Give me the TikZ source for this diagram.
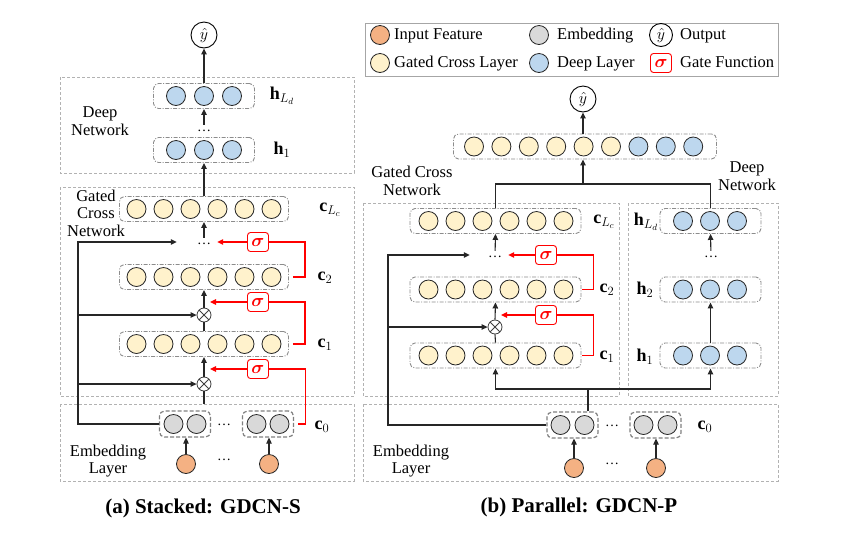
\RequirePackage{fix-cm}
\documentclass[tikz,border=0pt]{standalone}
\usepackage{amsmath}
\usepackage{fontspec}
\setmainfont{Liberation Serif}
\usetikzlibrary{arrows.meta}
\tikzset{>/.tip={Triangle[length=6pt,width=5.5pt]}}
\definecolor{featc}{HTML}{F4B183}
\definecolor{embc}{HTML}{D9D9D9}
\definecolor{crossc}{HTML}{FFF2CC}
\definecolor{deepc}{HTML}{BDD7EE}
\tikzset{
  panel/.style={draw=black!30, dash pattern=on 3pt off 2pt, line width=0.9pt},
  legbox/.style={draw=black!35, line width=0.9pt},
  rowbox/.style={draw=black!45, dash pattern=on 4pt off 1.5pt on 1pt off 1.5pt, rounded corners=5pt, line width=0.9pt, minimum height=25pt, inner sep=0pt},
  embbox/.style={draw=black!50, dash pattern=on 4pt off 2pt, rounded corners=5pt, line width=1.2pt, minimum width=51pt, minimum height=26pt, inner sep=0pt},
  cell/.style={circle, draw=black!85, line width=0.8pt, minimum size=19pt, inner sep=0pt},
  featu/.style={cell, fill=featc},
  embu/.style={cell, fill=embc},
  crossu/.style={cell, fill=crossc},
  deepu/.style={cell, fill=deepc},
  outnode/.style={circle, draw, line width=0.9pt, minimum size=26pt, inner sep=0pt, font=\fontsize{16}{16}\selectfont},
  prod/.style={circle, draw=black!75, line width=0.8pt, minimum size=14pt, inner sep=0pt,
    path picture={\draw[black!75, line width=0.8pt]
      (path picture bounding box.north west) -- (path picture bounding box.south east)
      (path picture bounding box.north east) -- (path picture bounding box.south west);}},
  gate/.style={draw=red, rounded corners=3pt, line width=0.9pt, text=red, minimum width=21pt, minimum height=19pt, inner sep=0pt, font=\fontsize{18}{18}\selectfont},
  link/.style={draw=black!85, line width=1.1pt},
  gateline/.style={draw=red, line width=1.1pt},
  lbl/.style={font=\fontsize{18}{20}\selectfont, inner sep=0pt},
  tag/.style={align=center, font=\fontsize{16.5}{17.5}\selectfont, inner sep=0pt},
  legtxt/.style={anchor=west, inner sep=0pt, text height=11pt, text depth=3pt, font=\fontsize{16.5}{17}\selectfont},
  dotlbl/.style={inner sep=0pt, font=\fontsize{14}{14}\selectfont},
  capt/.style={font=\fontsize{21}{21}\selectfont\bfseries}
}
\begin{document}
\begin{tikzpicture}[x=1pt,y=-1pt]
\useasboundingbox (0,0) rectangle (854,550);
% ---------- (a) stacked ----------
\node[outnode] (ya) at (204,35) {$\hat{y}$};
\draw[panel] (60,77) rectangle (354,173);
\draw[panel] (60,187) rectangle (354,396);
\draw[panel] (60,404) rectangle (354,481);
\node[tag] (deepa) at (100,121) {Deep\\Network};
\node[tag] (gcna) at (96,213) {Gated\\Cross\\Network};
\node[tag] (embla) at (108,461) {Embedding\\Layer};
% deep rows
\node[rowbox, minimum width=101pt] (hLda) at (204,96) {};
\node[rowbox, minimum width=101pt] (h1a) at (204,150) {};
\foreach \i in {0,1,2}
{
  \node[deepu] (hLda-\i) at ({204+28*(\i-1)},96) {};
  \node[deepu] (h1a-\i) at ({204+28*(\i-1)},150) {};
}
\node[lbl] (lhLda) at (282,96) {$\mathbf{h}_{L_d}$};
\node[lbl] (lh1a) at (282,150) {$\mathbf{h}_1$};
\node[dotlbl] (dda) at (204,131) {\ldots};
% cross rows
\node[rowbox, minimum width=169pt] (cLca) at (204,209) {};
\node[rowbox, minimum width=169pt] (c2a) at (204,277) {};
\node[rowbox, minimum width=169pt] (c1a) at (204,344) {};
\foreach \i in {0,...,5}
{
  \node[crossu] (cLca-\i) at ({204+27*(\i-2.5)},209) {};
  \node[crossu] (c2a-\i) at ({204+27*(\i-2.5)},277) {};
  \node[crossu] (c1a-\i) at ({204+27*(\i-2.5)},344) {};
}
\node[lbl] (lcLca) at (330,210) {$\mathbf{c}_{L_c}$};
\node[lbl] (lc2a) at (325,278) {$\mathbf{c}_2$};
\node[lbl] (lc1a) at (325,345) {$\mathbf{c}_1$};
\node[dotlbl] (dga) at (204,244) {\ldots};
\node[prod] (ox2a) at (204,315) {};
\node[prod] (ox1a) at (204,384) {};
\node[gate] (sga3) at (258,242) {$\boldsymbol{\sigma}$};
\node[gate] (sga2) at (258,302) {$\boldsymbol{\sigma}$};
\node[gate] (sga1) at (258,369) {$\boldsymbol{\sigma}$};
% embedding
\node[embbox] (ea1) at (185,424) {};
\node[embbox] (ea2) at (268,424) {};
\foreach \g in {ea1,ea2}
{
  \node[embu] (\g-0) at ([xshift=-11.5pt]\g.center) {};
  \node[embu] (\g-1) at ([xshift=11.5pt]\g.center) {};
}
\node[dotlbl] (dea) at (224,425) {\ldots};
\node[lbl] (lc0a) at (322,427) {$\mathbf{c}_0$};
\node[featu] (fa1) at (186,464) {};
\node[featu] (fa2) at (269,464) {};
\node[dotlbl] (dfa) at (224,460) {\ldots};
\node[capt] (capa) at (203,508) {(a) Stacked: GDCN-S};
\coordinate (La) at (78,242);
\coordinate (emba) at (204,404);
% links
\draw[link,->] (hLda.north) -- (ya.south);
\draw[link,->,shorten <=5pt] (dda.north) -- (hLda.south);
\draw[link,->] (cLca.north) -- (h1a.south);
\draw[link,->,shorten <=5pt] (dga.north) -- (cLca.south);
\draw[link,->] (ox2a.north) -- (c2a.south);
\draw[link] (c1a.north) -- (ox2a.south);
\draw[link,->] (ox1a.north) -- (c1a.south);
\draw[link] (emba) -- (ox1a.south);
\draw[link,->,shorten >=20pt] (ea1.west) -| (La) -- (La -| dga.west);
\draw[link,->] (La |- ox2a) -- (ox2a.west);
\draw[link,->] (La |- ox1a) -- (ox1a.west);
\draw[link,->] (fa1.north) -- (fa1 |- ea1.south);
\draw[link,->] (fa2.north) -- (fa2 |- ea2.south);
% gates
\draw[gateline] ([xshift=4pt]c2a.east) -- ++(12,0) |- (sga3.east);
\draw[gateline,->,shorten >=6pt] (sga3.west) -- (sga3.west -| dga.east);
\draw[gateline] ([xshift=4pt]c1a.east) -- ++(12,0) |- (sga2.east);
\draw[gateline,->,shorten >=6pt] (sga2.west) -- (sga2.west -| ox2a.north);
\draw[gateline] ([xshift=4pt]ea2.east) -- ++(7,0) |- (sga1.east);
\draw[gateline,->,shorten >=6pt] (sga1.west) -- (sga1.west -| ox1a.north);
% ---------- legend ----------
\draw[legbox] (365,23) rectangle (778,76);
\node[featu] (lg1) at (380,35) {};
\node[legtxt] (lt1) at (394,35) {Input Feature};
\node[crossu] (lg2) at (380,63) {};
\node[legtxt] (lt2) at (394,63) {Gated Cross Layer};
\node[embu] (lg3) at (539,35) {};
\node[legtxt] (lt3) at (557,35) {Embedding};
\node[deepu] (lg4) at (539,63) {};
\node[legtxt] (lt4) at (557,63) {Deep Layer};
\node[outnode, minimum size=23pt] (lg5) at (661,35) {$\hat{y}$};
\node[legtxt] (lt5) at (680,35) {Output};
\node[gate] (lg6) at (661,63) {$\boldsymbol{\sigma}$};
\node[legtxt] (lt6) at (680,63) {Gate Function};
% ---------- (b) parallel ----------
\node[outnode] (yb) at (583,99) {$\hat{y}$};
\node[rowbox, minimum width=263pt] (comb) at (585,146.5) {};
\foreach \i in {0,...,8}
{
  \ifnum\i<6
    \node[crossu] (comb-\i) at ({583.6+27.4*(\i-4)},146.5) {};
  \else
    \node[deepu] (comb-\i) at ({583.6+27.4*(\i-4)},146.5) {};
  \fi
}
\draw[panel] (363,203) rectangle (619,396);
\draw[panel] (628,203) rectangle (778,396);
\draw[panel] (363,404) rectangle (778,481);
\node[tag] (gcnb) at (412,181) {Gated Cross\\Network};
\node[tag] (deepb) at (747,176) {Deep\\Network};
\node[tag] (emblb) at (411,461) {Embedding\\Layer};
% cross rows
\node[rowbox, minimum width=171pt] (cLcb) at (495.5,221) {};
\node[rowbox, minimum width=171pt] (c2b) at (495.5,289.5) {};
\node[rowbox, minimum width=171pt] (c1b) at (495.5,355.5) {};
\foreach \i in {0,...,5}
{
  \node[crossu] (cLcb-\i) at ({496+27*(\i-2.5)},221) {};
  \node[crossu] (c2b-\i) at ({496+27*(\i-2.5)},289.5) {};
  \node[crossu] (c1b-\i) at ({496+27*(\i-2.5)},355.5) {};
}
\node[lbl] (lcLcb) at (604,222) {$\mathbf{c}_{L_c}$};
\node[lbl] (lc2b) at (607,290) {$\mathbf{c}_2$};
\node[lbl] (lc1b) at (607,357) {$\mathbf{c}_1$};
\node[dotlbl] (dgb) at (495,257) {\ldots};
\node[prod] (oxb) at (495,327) {};
\node[gate] (sgb2) at (546,255) {$\boldsymbol{\sigma}$};
\node[gate] (sgb1) at (546,315) {$\boldsymbol{\sigma}$};
% deep rows
\node[rowbox, minimum width=101pt] (hLdb) at (710.5,221) {};
\node[rowbox, minimum width=101pt] (h2b) at (710.5,289.5) {};
\node[rowbox, minimum width=101pt] (h1b) at (710.5,355.5) {};
\foreach \i in {0,1,2}
{
  \node[deepu] (hLdb-\i) at ({710+27*(\i-1)},221) {};
  \node[deepu] (h2b-\i) at ({710+27*(\i-1)},289.5) {};
  \node[deepu] (h1b-\i) at ({710+27*(\i-1)},355.5) {};
}
\node[lbl] (lhLdb) at (646,222) {$\mathbf{h}_{L_d}$};
\node[lbl] (lh2b) at (645,290) {$\mathbf{h}_2$};
\node[lbl] (lh1b) at (645,357) {$\mathbf{h}_1$};
\node[dotlbl] (ddb) at (711,257) {\ldots};
% embedding
\node[embbox] (eb1) at (572.5,425) {};
\node[embbox] (eb2) at (655.5,425) {};
\foreach \g in {eb1,eb2}
{
  \node[embu] (\g-0) at ([xshift=-12pt]\g.center) {};
  \node[embu] (\g-1) at ([xshift=12pt]\g.center) {};
}
\node[dotlbl] (deb) at (612,426) {\ldots};
\node[lbl] (lc0b) at (705,427) {$\mathbf{c}_0$};
\node[featu] (fb1) at (574,468) {};
\node[featu] (fb2) at (656,468) {};
\node[dotlbl] (dfb) at (612,464) {\ldots};
\node[capt] (capb) at (579,507) {(b) Parallel: GDCN-P};
\coordinate (Lb) at (388,255);
\coordinate (jb) at (583,184);
\coordinate (jc) at (588,389);
% links
\draw[link,->] (comb.north -| yb) -- (yb.south);
\draw[link] (cLcb.north) |- (jb) -| (hLdb.north);
\draw[link,->] (jb) -- (jb |- comb.south);
\draw[link,->,shorten <=5pt] (dgb.north) -- (cLcb.south);
\draw[link,->] (oxb.north) -- (c2b.south);
\draw[link] (c1b.north) -- (oxb.south);
\draw[link,->,shorten <=5pt] (ddb.north) -- (hLdb.south);
\draw[link,->] (h1b.north) -- (h2b.south);
\draw[link] (jc |- eb1.north) -- (jc);
\draw[link,->] (jc) -| (c1b.south);
\draw[link,->] (jc) -| (h1b.south);
\draw[link,->,shorten >=18pt] (eb1.west) -| (Lb) -- (Lb -| dgb.west);
\draw[link,->] (Lb |- oxb) -- (oxb.west);
\draw[link,->] (fb1.north) -- (fb1 |- eb1.south);
\draw[link,->] (fb2.north) -- (fb2 |- eb2.south);
% gates
\draw[gateline] ([xshift=1pt]c2b.east) -- ++(11,0) |- (sgb2.east);
\draw[gateline,->,shorten >=6pt] (sgb2.west) -- (sgb2.west -| dgb.east);
\draw[gateline] ([xshift=1pt]c1b.east) -- ++(11,0) |- (sgb1.east);
\draw[gateline,->,shorten >=6pt] (sgb1.west) -- (sgb1.west -| oxb.north);
\end{tikzpicture}
\end{document}
